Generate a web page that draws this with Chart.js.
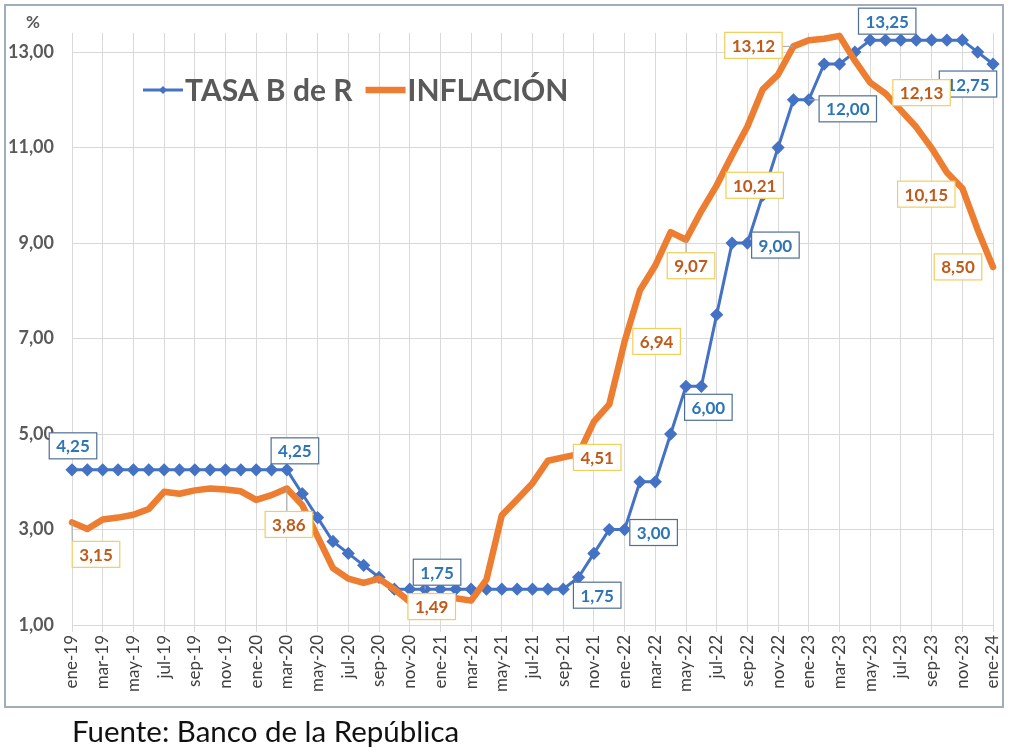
<!DOCTYPE html>
<html>
<head>
<meta charset="utf-8">
<script src="https://cdn.jsdelivr.net/npm/chart.js@4"></script>
<style>
  html, body { margin: 0; padding: 0; background: #fff; }
  #wrap { position: relative; width: 1024px; height: 755px; }
  canvas { display: block; }
</style>
</head>
<body>
<div id="wrap"><canvas id="chart" width="1024" height="755"></canvas></div>
<script>
// meses ene-19 .. ene-24
const mesesNombres = ['ene', 'feb', 'mar', 'abr', 'may', 'jun', 'jul', 'ago', 'sep', 'oct', 'nov', 'dic'];
const anios = ['19', '20', '21', '22', '23', '24'];
const meses = [];
anios.forEach(a => mesesNombres.forEach(m => meses.push(m + '-' + a)));
meses.length = 61; // hasta ene-24

// Tasa de intervención Banco de la República (%)
const tasaBR = [
  4.25, 4.25, 4.25, 4.25, 4.25, 4.25, 4.25, 4.25, 4.25, 4.25, 4.25, 4.25,
  4.25, 4.25, 4.25, 3.75, 3.25, 2.75, 2.50, 2.25, 2.00, 1.75, 1.75, 1.75,
  1.75, 1.75, 1.75, 1.75, 1.75, 1.75, 1.75, 1.75, 1.75, 2.00, 2.50, 3.00,
  3.00, 4.00, 4.00, 5.00, 6.00, 6.00, 7.50, 9.00, 9.00, 10.00, 11.00, 12.00,
  12.00, 12.75, 12.75, 13.00, 13.25, 13.25, 13.25, 13.25, 13.25, 13.25, 13.25, 13.00,
  12.75
];

// Inflacion anual (%)
const inflacion = [
  3.15, 3.01, 3.21, 3.25, 3.31, 3.43, 3.79, 3.75, 3.82, 3.86, 3.84, 3.80,
  3.62, 3.72, 3.86, 3.51, 2.85, 2.19, 1.97, 1.88, 1.97, 1.75, 1.49, 1.61,
  1.60, 1.56, 1.51, 1.95, 3.30, 3.63, 3.97, 4.44, 4.51, 4.58, 5.26, 5.62,
  6.94, 8.01, 8.53, 9.23, 9.07, 9.67, 10.21, 10.84, 11.44, 12.22, 12.53, 13.12,
  13.25, 13.28, 13.34, 12.82, 12.36, 12.13, 11.78, 11.43, 10.99, 10.48, 10.15, 9.28,
  8.50
];

const yTicks = [1, 3, 5, 7, 9, 11, 13];

// etiquetas con recuadro: indice del punto y desplazamiento en px
const etiquetasTasa = [
  { i: 0, dx: 1, dy: -24 },
  { i: 14, dx: 8, dy: -19 },
  { i: 23, dx: 12, dy: -17, leader: true },
  { i: 32, dx: 34, dy: 6 },
  { i: 36, dx: 29, dy: 3 },
  { i: 41, dx: 7, dy: 21 },
  { i: 44, dx: 28, dy: 2 },
  { i: 48, dx: 39, dy: 9, leader: true },
  { i: 52, dx: 17, dy: -19 },
  { i: 60, dx: -25, dy: 20 }
];
const etiquetasInfl = [
  { i: 0, dx: 24, dy: 32, leader: true },
  { i: 14, dx: 2, dy: 36, leader: true },
  { i: 22, dx: 22, dy: 5 },
  { i: 32, dx: 34, dy: 0 },
  { i: 36, dx: 32, dy: 0 },
  { i: 40, dx: 5, dy: 26, leader: true },
  { i: 42, dx: 38, dy: 0 },
  { i: 47, dx: -40, dy: -1, leader: true },
  { i: 53, dx: 36, dy: -1 },
  { i: 58, dx: -36, dy: 6 },
  { i: 60, dx: -35, dy: 0 }
];

const AZUL = '#4472C4';
const NARANJA = '#ED7D31';
const FONT = 'Lato, "Noto Sans", sans-serif';

const fmt = v => v.toFixed(2).replace('.', ',');

const fondoPlugin = {
  id: 'fondo',
  beforeDraw(chart) {
    const ctx = chart.ctx;
    ctx.save();
    ctx.fillStyle = '#fff';
    ctx.fillRect(0, 0, chart.width, chart.height);
    ctx.restore();
  },
  afterDraw(chart) {
    const ctx = chart.ctx;
    ctx.save();
    // marco del grafico
    ctx.strokeStyle = '#A3ADBA';
    ctx.lineWidth = 2;
    ctx.strokeRect(5, 5, 998, 702);
    // unidad eje y
    ctx.fillStyle = '#595959';
    ctx.font = 'bold 17px ' + FONT;
    ctx.textAlign = 'center';
    ctx.textBaseline = 'middle';
    ctx.fillText('%', 33, 23);
    // fuente
    ctx.fillStyle = '#111';
    ctx.font = '29.5px ' + FONT;
    ctx.textAlign = 'left';
    ctx.textBaseline = 'alphabetic';
    ctx.fillText('Fuente: Banco de la República', 72, 742);
    ctx.restore();
  }
};

// leyenda dentro del area de trazado
const leyendaPlugin = {
  id: 'leyendaInterna',
  afterDatasetsDraw(chart) {
    const ctx = chart.ctx;
    const y = 90;
    ctx.save();
    ctx.font = 'bold 30px ' + FONT;
    ctx.textBaseline = 'middle';
    let x = 143;
    chart.data.datasets.forEach(ds => {
      ctx.strokeStyle = ds.borderColor;
      ctx.lineWidth = ds.borderWidth;
      ctx.beginPath();
      ctx.moveTo(x, y);
      ctx.lineTo(x + 40, y);
      ctx.stroke();
      if (ds.pointRadius > 0) {
        ctx.fillStyle = ds.borderColor;
        ctx.beginPath();
        ctx.moveTo(x + 20, y - 4);
        ctx.lineTo(x + 24, y);
        ctx.lineTo(x + 20, y + 4);
        ctx.lineTo(x + 16, y);
        ctx.closePath();
        ctx.fill();
      }
      ctx.fillStyle = '#595959';
      ctx.fillText(ds.label, x + 42, y + 1);
      x += 42 + ctx.measureText(ds.label).width + 13;
    });
    ctx.restore();
  }
};

// etiquetas de datos con recuadro
const etiquetasPlugin = {
  id: 'etiquetas',
  afterDatasetsDraw(chart) {
    const ctx = chart.ctx;
    const conf = [
      { set: 0, lista: etiquetasTasa, texto: '#2E75B6', borde: '#4F6F94' },
      { set: 1, lista: etiquetasInfl, texto: '#BF5A1A', borde: '#F2CE5C' }
    ];
    ctx.save();
    ctx.font = 'bold 17px ' + FONT;
    ctx.textAlign = 'center';
    ctx.textBaseline = 'middle';
    conf.forEach(c => {
      const meta = chart.getDatasetMeta(c.set);
      const datos = chart.data.datasets[c.set].data;
      c.lista.forEach(e => {
        const p = meta.data[e.i];
        const txt = fmt(datos[e.i]);
        const w = ctx.measureText(txt).width + 14;
        const h = 26;
        const cx = p.x + e.dx, cy = p.y + e.dy;
        const bx = cx - w / 2, by = cy - h / 2;
        if (e.leader) {
          const nx = Math.min(Math.max(p.x, bx), bx + w);
          const ny = Math.min(Math.max(p.y, by), by + h);
          ctx.strokeStyle = '#A6A6A6';
          ctx.lineWidth = 1;
          ctx.beginPath();
          ctx.moveTo(p.x, p.y);
          ctx.lineTo(nx, ny);
          ctx.stroke();
        }
        ctx.fillStyle = '#fff';
        ctx.fillRect(bx, by, w, h);
        ctx.strokeStyle = c.borde;
        ctx.lineWidth = 1.2;
        ctx.strokeRect(bx, by, w, h);
        ctx.fillStyle = c.texto;
        ctx.fillText(txt, cx, cy + 1);
      });
    });
    ctx.restore();
  }
};

const ctx = document.getElementById('chart').getContext('2d');
new Chart(ctx, {
  type: 'line',
  data: {
    labels: meses,
    datasets: [
      {
        label: 'TASA B de R',
        data: tasaBR,
        borderColor: AZUL,
        backgroundColor: AZUL,
        borderWidth: 3,
        pointStyle: 'rectRot',
        pointRadius: 4.5,
        pointBackgroundColor: AZUL,
        pointBorderColor: AZUL,
        tension: 0,
        clip: false,
        order: 2
      },
      {
        label: 'INFLACIÓN',
        data: inflacion,
        borderColor: NARANJA,
        backgroundColor: NARANJA,
        borderWidth: 6.5,
        pointRadius: 0,
        borderJoinStyle: 'round',
        borderCapStyle: 'round',
        tension: 0,
        clip: false,
        order: 1
      }
    ]
  },
  options: {
    responsive: false,
    animation: false,
    devicePixelRatio: 1,
    layout: { padding: { left: 0, top: 33, right: 31, bottom: 50 } },
    plugins: {
      legend: { display: false },
      tooltip: { enabled: false }
    },
    scales: {
      x: {
        offset: false,
        grid: { color: '#D9D9D9', lineWidth: 1, tickLength: 7 },
        border: { color: '#D9D9D9' },
        ticks: {
          autoSkip: false,
          minRotation: 90,
          maxRotation: 90,
          padding: 3,
          color: '#404040',
          font: { family: FONT, size: 17 },
          callback: function (val, idx) {
            return idx % 2 === 0 ? this.getLabelForValue(val) : null;
          }
        },
        afterFit: s => { s.height = 80; }
      },
      y: {
        min: 1,
        max: 13.4,
        grid: { color: '#D9D9D9', lineWidth: 1, drawTicks: false },
        border: { display: false },
        ticks: {
          padding: 18,
          color: '#595959',
          font: { family: FONT, size: 18, weight: 'bold' },
          callback: v => fmt(v)
        },
        afterBuildTicks: s => { s.ticks = yTicks.map(v => ({ value: v })); },
        afterFit: s => { s.width = 72; }
      }
    }
  },
  plugins: [fondoPlugin, leyendaPlugin, etiquetasPlugin]
});
</script>
</body>
</html>
